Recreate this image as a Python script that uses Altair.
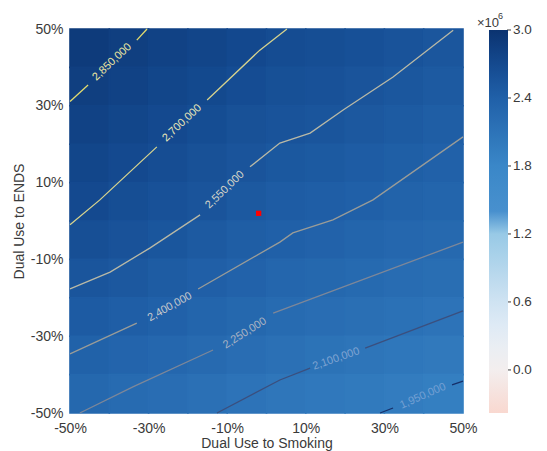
import altair as alt
import pandas as pd

FONT = "Liberation Sans"
TEXT_COLOR = "#3a3a3a"

# ---- response surface: 10% cells, centre of each cell in percent ----
smoking_centres = [-45, -35, -25, -15, -5, 5, 15, 25, 35, 45]
ends_centres = [45, 35, 25, 15, 5, -5, -15, -25, -35, -45]

# modelled totals (thousands), one row per ENDS cell, top row first
ends_p45 = [2896, 2849, 2801, 2767, 2720, 2675, 2650, 2614, 2578, 2536]
ends_p35 = [2846, 2803, 2757, 2717, 2666, 2623, 2598, 2562, 2525, 2485]
ends_p25 = [2800, 2757, 2713, 2665, 2611, 2572, 2546, 2510, 2473, 2434]
ends_p15 = [2754, 2711, 2659, 2611, 2557, 2515, 2488, 2456, 2420, 2381]
ends_p05 = [2708, 2651, 2601, 2558, 2496, 2456, 2431, 2403, 2358, 2322]
ends_m05 = [2634, 2585, 2541, 2485, 2434, 2394, 2362, 2328, 2292, 2264]
ends_m15 = [2554, 2509, 2461, 2410, 2363, 2313, 2281, 2251, 2218, 2186]
ends_m25 = [2465, 2422, 2378, 2328, 2281, 2231, 2198, 2167, 2135, 2103]
ends_m35 = [2375, 2331, 2287, 2244, 2196, 2148, 2113, 2084, 2051, 2016]
ends_m45 = [2284, 2238, 2195, 2154, 2108, 2064, 2031, 2003, 1968, 1930]
surface_rows = [ends_p45, ends_p35, ends_p25, ends_p15, ends_p05,
                ends_m05, ends_m15, ends_m25, ends_m35, ends_m45]

# ---- contour lines (percent coordinates), split where the label sits ----
contour_levels = [2850000, 2700000, 2550000, 2400000, 2250000, 2100000, 1950000]
c2850 = [[(-50.0, 31.1), (-45.4, 35.4)],
         [(-33.0, 47.1), (-30.4, 50.0)]]
c2700 = [[(-50.0, -1.0), (-42.4, 5.5), (-27.9, 19.3)],
         [(-15.1, 31.5), (-1.7, 44.5), (5.2, 50.0)]]
c2550 = [[(-50.0, -17.7), (-39.8, -13.3), (-29.6, -7.0), (-16.9, 1.6)],
         [(-4.2, 14.1), (3.4, 20.3), (11.1, 22.9), (19.5, 28.9), (32.2, 37.5), (47.5, 49.7)]]
c2400 = [[(-50.0, -34.6), (-33.0, -26.6)],
         [(-17.4, -17.7), (3.4, -5.5), (6.7, -3.1), (16.9, 0.3), (27.1, 5.5), (50.0, 21.9)]]
c2250 = [[(-47.5, -50.0), (-34.0, -43.2), (-13.6, -33.6)],
         [(1.7, -24.0), (50.0, -5.5)]]
c2100 = [[(-12.6, -50.0), (3.4, -41.4), (11.1, -38.3)],
         [(25.1, -33.1), (50.0, -23.4)]]
c1950 = [[(28.9, -50.0), (32.2, -48.7)],
         [(47.2, -42.7), (50.0, -41.7)]]
contour_paths = [c2850, c2700, c2550, c2400, c2250, c2100, c1950]

label_x = [-39.3, -21.5, -10.6, -24.6, -5.5, 17.7, 39.8]
label_y = [41.4, 25.5, 8.1, -22.4, -29.2, -35.9, -45.6]
label_angle = [317, 317, 316, 331, 328, 341, 336]
line_colors = ["#e3dc6e", "#d6d38e", "#b9b9a6", "#9a9c98", "#7d8799", "#3b4f7e", "#16306a"]
label_colors = ["#ece7a0", "#e8e6b8", "#d4d4c8", "#c6c8cc", "#a9b3c3", "#7fa3d2", "#74a0d3"]

# ---- current scenario marker ----
point_smoking = [-2]
point_ends = [2]

# ---- colour map ----
cmap_domain = [-380000, 0, 300000, 600000, 1200000, 1320000, 1330000,
               1800000, 2400000, 2700000, 3000000]
cmap_range = ["#f9d8d0", "#f3eeee", "#e6eef6", "#cfe3f2", "#98c9e6", "#8cc2e3",
              "#4a92cf", "#3a87c8", "#2060a8", "#144a90", "#0b3370"]
colorbar_ticks = [0, 600000, 1200000, 1800000, 2400000, 3000000]
axis_ticks = [-50, -30, -10, 10, 30, 50]

# ---- tables ----
cells = []
for yc, row in zip(ends_centres, surface_rows):
    for xc, v in zip(smoking_centres, row):
        cells.append({"x0": xc - 5, "x1": xc + 5, "y0": yc - 5, "y1": yc + 5,
                      "total": v * 1000})
cell_df = pd.DataFrame(cells)

label_df = pd.DataFrame({
    "x": label_x, "y": label_y, "ang": label_angle, "tc": label_colors,
    "txt": [f"{lvl:,}" for lvl in contour_levels],
})
point_df = pd.DataFrame({"x": point_smoking, "y": point_ends})
cbar_df = pd.DataFrame({"v": colorbar_ticks,
                        "t": [f"{v / 1e6:.1f}" for v in colorbar_ticks]})

xs = alt.Scale(domain=[-50, 50], nice=False, zero=False)
ys = alt.Scale(domain=[-50, 50], nice=False, zero=False)
x_axis = alt.Axis(values=axis_ticks, labelExpr="datum.value + '%'", ticks=False,
                  domain=False, grid=False, labelPadding=8, titlePadding=1,
                  labelFlush=False)
y_axis = alt.Axis(values=axis_ticks, labelExpr="datum.value + '%'", ticks=False,
                  domain=False, grid=False, labelPadding=7, titlePadding=4,
                  labelFlush=False)
X_TITLE = "Dual Use to Smoking"
Y_TITLE = "Dual Use to ENDS"


def x_enc(field):
    return alt.X(field, scale=xs, axis=x_axis, title=X_TITLE)


def y_enc(field):
    return alt.Y(field, scale=ys, axis=y_axis, title=Y_TITLE)


cscale = alt.Scale(domain=cmap_domain, range=cmap_range, interpolate="rgb")

heat = alt.Chart(cell_df).mark_rect(strokeWidth=1.6, strokeOpacity=1).encode(
    x=x_enc("x0:Q"),
    x2="x1:Q",
    y=y_enc("y0:Q"),
    y2="y1:Q",
    color=alt.Color("total:Q", scale=cscale, legend=None),
    stroke=alt.Stroke("total:Q", scale=cscale, legend=None),
)

# colour bar: a transparent layer that carries the gradient legend
CBAR_LEN = 383
colorbar = alt.Chart(cell_df).mark_square(opacity=0).encode(
    x=x_enc("x0:Q"),
    y=y_enc("y0:Q"),
    color=alt.Color(
        "total:Q", scale=cscale,
        legend=alt.Legend(
            type="gradient", orient="none", legendX=419, legendY=1,
            direction="vertical", title=None, padding=0,
            gradientLength=CBAR_LEN, gradientThickness=19,
            gradientStrokeWidth=0, labelExpr="''",
        ),
    ),
)

# one layer per contour level, each in its own colour
contour_layers = []
for lvl, segs, col in zip(contour_levels, contour_paths, line_colors):
    rows = []
    for s, seg in enumerate(segs):
        for i, (x, y) in enumerate(seg):
            rows.append({"seg": s, "i": i, "x": x, "y": y})
    contour_layers.append(
        alt.Chart(pd.DataFrame(rows)).mark_line(strokeWidth=1.3, color=col).encode(
            x=x_enc("x:Q"), y=y_enc("y:Q"), detail="seg:N", order="i:Q",
        )
    )

labels = alt.Chart(label_df).mark_text(font=FONT, fontSize=11).encode(
    x=x_enc("x:Q"),
    y=y_enc("y:Q"),
    text="txt:N",
    angle=alt.Angle("ang:Q", scale=None),
    fill=alt.Fill("tc:N", scale=None),
)

marker = alt.Chart(point_df).mark_square(size=28, color="#ff0000", opacity=1).encode(
    x=x_enc("x:Q"), y=y_enc("y:Q"),
)

main = alt.layer(heat, colorbar, *contour_layers, labels, marker).resolve_scale(
    color="independent", stroke="independent", fill="independent",
)

# colour-bar ticks and labels on a scale spanning the bar
cbar_y = alt.Scale(domain=[cmap_domain[0], cmap_domain[-1]], range=[1 + CBAR_LEN, 1])
cbar_ticks = alt.Chart(cbar_df).mark_rule(color=TEXT_COLOR, strokeWidth=1).encode(
    y=alt.Y("v:Q", scale=cbar_y, axis=None),
    x=alt.value(437), x2=alt.value(441),
)
cbar_labels = alt.Chart(cbar_df).mark_text(
    font=FONT, fontSize=13.5, align="left", baseline="middle", color=TEXT_COLOR,
).encode(
    y=alt.Y("v:Q", scale=cbar_y, axis=None),
    x=alt.value(443),
    text="t:N",
)

# colour-bar multiplier "x10^6"
mult_df = pd.DataFrame({"t": ["\u00d710"]})
exp_df = pd.DataFrame({"t": ["6"]})
mult = alt.Chart(mult_df).mark_text(font=FONT, fontSize=13, align="left",
                                    baseline="alphabetic", color=TEXT_COLOR).encode(
    x=alt.value(407), y=alt.value(-2), text="t:N")
expo = alt.Chart(exp_df).mark_text(font=FONT, fontSize=9, align="left",
                                   baseline="alphabetic", color=TEXT_COLOR).encode(
    x=alt.value(428), y=alt.value(-10), text="t:N")

chart = alt.layer(main, alt.layer(cbar_ticks, cbar_labels), mult, expo).resolve_scale(
    y="independent",
).properties(
    width=393, height=384,
    autosize=alt.AutoSizeParams(type="none"),
    padding={"left": 70, "top": 29, "right": 84, "bottom": 38},
    background="white",
).configure_view(strokeWidth=0).configure_axis(
    labelFont=FONT, labelFontSize=14, labelColor=TEXT_COLOR,
    titleFont=FONT, titleFontSize=14, titleFontWeight="normal", titleColor=TEXT_COLOR,
)

chart.save("out.html", embed_options={"renderer": "svg", "actions": False})
